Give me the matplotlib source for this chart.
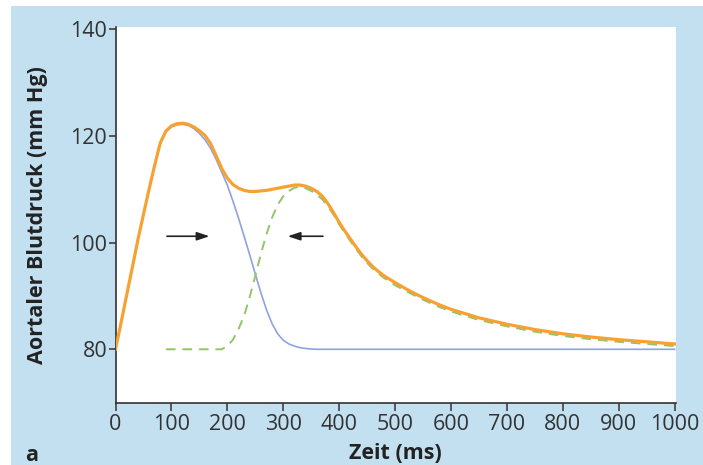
import numpy as np
import matplotlib.pyplot as plt
from matplotlib.patches import Rectangle

# time grid (ms) and pressures (mm Hg)
zeit = [0, 10, 20, 30, 40, 50, 60, 70, 80, 90, 100, 110, 120, 130, 140, 150,
        160, 170, 180, 190, 200, 210, 220, 230, 240, 250, 260, 270, 280, 290,
        300, 310, 320, 330, 340, 350, 360, 370, 380, 390, 400, 410, 420, 430,
        440, 450, 460, 470, 480, 500, 520, 540, 560, 580, 600, 650, 700, 750,
        800, 850, 900, 950, 1000]

# forward wave (blue)
vorwaerts = [80, 85, 90.2, 95.3, 100.5, 105.3, 110, 114.5, 118.6, 120.8,
             121.7, 122.1, 122.2, 122, 121.4, 120.5, 119.3, 117.7, 115.6,
             113.2, 110.8, 107.8, 104.6, 101.2, 97.7, 94.1, 90.6, 87.4, 84.8,
             82.9, 81.7, 81.0, 80.6, 80.3, 80.15, 80.05,
             80, 80, 80, 80, 80, 80, 80, 80, 80, 80, 80, 80, 80,
             80, 80, 80, 80, 80, 80, 80, 80, 80, 80, 80, 80, 80, 80]

# reflected wave (green dashed), starts at 90 ms
nan = np.nan
reflektiert = [nan, nan, nan, nan, nan, nan, nan, nan, nan,
               80, 80, 80, 80, 80, 80, 80, 80, 80, 80, 80,
               80.6, 81.8, 83.8, 86.3, 89.8, 93.8, 97.9, 101.6, 104.7, 107.1,
               108.7, 109.7, 110.3, 110.5, 110.2, 109.7, 109.0, 108.1, 106.8,
               105.2, 103.4, 101.8, 100.3, 98.8, 97.4, 96.2, 95.1, 94.2, 93.4,
               92.0, 90.9, 89.8, 88.8, 87.9, 87.1, 85.5, 84.3, 83.3, 82.5,
               81.9, 81.4, 81.0, 80.6]

# resulting aortic pressure (orange)
gesamt = [80, 85, 90.2, 95.3, 100.5, 105.3, 110, 114.5, 118.7, 120.9,
          121.9, 122.3, 122.4, 122.2, 121.7, 121.0, 120.1, 118.6, 116.3,
          113.9, 112.1, 110.9, 110.2, 109.8, 109.6, 109.6, 109.7, 109.8,
          110.0, 110.2, 110.4, 110.6, 110.8, 110.8, 110.6, 110.2, 109.6,
          108.7, 107.3, 105.6, 103.8, 102.2, 100.7, 99.2, 97.8, 96.6, 95.5,
          94.6, 93.8, 92.5, 91.3, 90.2, 89.2, 88.3, 87.5, 85.9, 84.7, 83.7,
          82.9, 82.3, 81.8, 81.4, 81.0]

xticks = np.arange(0, 1001, 100)
yticks = [80, 100, 120, 140]

plt.rcParams['font.family'] = ['Open Sans', 'DejaVu Sans']

fig = plt.figure(figsize=(7.03, 4.65), dpi=100, facecolor='white')
bg = Rectangle((11/703, 0), 1 - 11/703, 1 - 6/465, transform=fig.transFigure,
               facecolor='#c2e0f0', edgecolor='none', zorder=-10)
fig.add_artist(bg)

ax = fig.add_axes([115.5/703, 1 - 403.3/465, 560.5/703, 376.6/465])
ax.set_facecolor('white')

ax.plot(zeit, vorwaerts, color='#8fa3dc', lw=1.2, zorder=2)
ax.plot(zeit, reflektiert, color='#93c46a', lw=1.4, ls=(0, (5, 3.5)), zorder=2)
ax.plot(zeit, gesamt, color='#f7a133', lw=2.3, zorder=3,
        solid_joinstyle='round')

# arrows
ax.annotate('', xy=(168, 101.2), xytext=(92, 101.2),
            arrowprops=dict(arrowstyle='-|>,head_length=0.75,head_width=0.25',
                            color='#222222', lw=1.2, shrinkA=0, shrinkB=0))
ax.annotate('', xy=(308, 101.2), xytext=(371, 101.2),
            arrowprops=dict(arrowstyle='-|>,head_length=0.75,head_width=0.25',
                            color='#222222', lw=1.2, shrinkA=0, shrinkB=0))

ax.set_xlim(0, 1002.3)
ax.set_ylim(69.87, 140.5)
ax.set_xticks(xticks)
ax.set_yticks(yticks)
ax.spines['top'].set_visible(False)
ax.spines['right'].set_visible(False)
for s in ['left', 'bottom']:
    ax.spines[s].set_color('#333333')
    ax.spines[s].set_linewidth(1.2)
ax.tick_params(axis='y', direction='out', length=5, width=1.1, color='#333333',
               labelsize=15.5, labelcolor='#333333', pad=1)
ax.tick_params(axis='x', direction='out', length=5.5, width=1.1, color='#333333',
               labelsize=15.5, labelcolor='#333333', pad=2.5)

# axis labels placed like in the original
fig.text(395/703, 1 - 453/465, 'Zeit (ms)', fontsize=15.5, fontweight='bold',
         color='#222222', ha='center', va='center')
fig.text(38/703, 1 - 215/465, 'Aortaler Blutdruck (mm Hg)', fontsize=15.5,
         fontweight='bold', color='#222222', ha='center', va='center',
         rotation=90)
fig.text(32/703, 1 - 455/465, 'a', fontsize=15.5, fontweight='bold',
         color='#222222', ha='center', va='center')

fig.savefig('out.png', dpi=100, facecolor=fig.get_facecolor())
